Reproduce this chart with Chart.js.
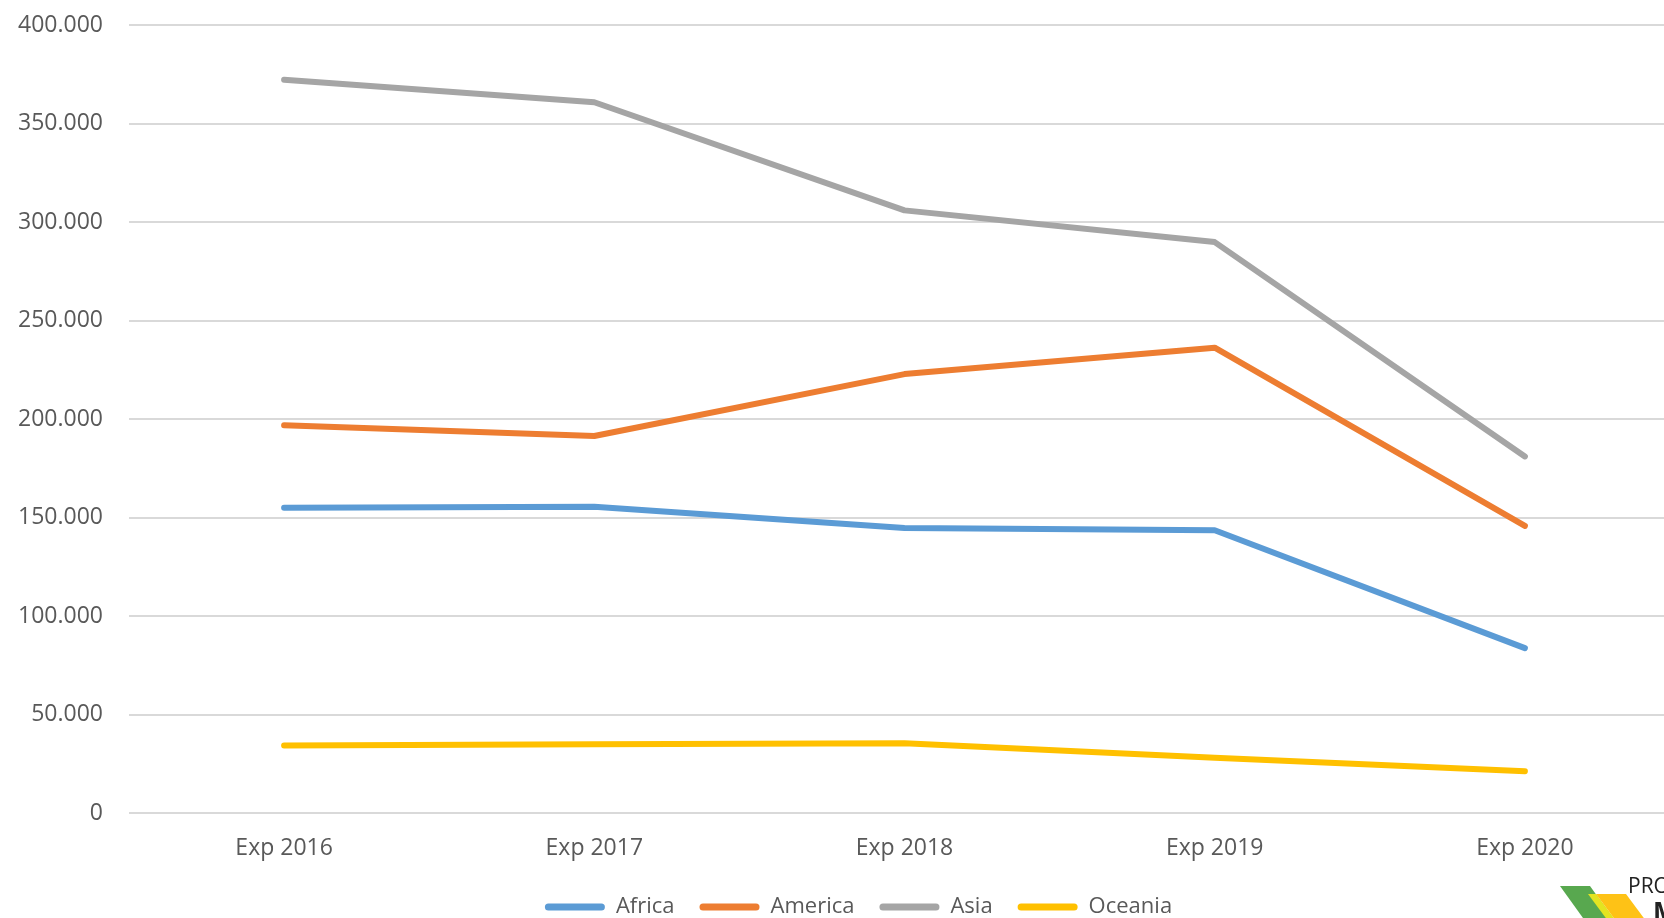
<!DOCTYPE html>
<html>
<head>
<meta charset="utf-8">
<script src="https://cdn.jsdelivr.net/npm/chart.js@4.4.1/dist/chart.umd.min.js"></script>
<style>
  html, body { margin: 0; padding: 0; background: #fff; overflow: hidden; }
  #chart { position: absolute; left: 0; top: 0; }
</style>
</head>
<body>
<canvas id="chart" width="1680" height="928"></canvas>
<script>
const categories = ["Exp 2016", "Exp 2017", "Exp 2018", "Exp 2019", "Exp 2020"];
const africa = [155000, 155500, 144700, 143500, 83700];
const america = [196800, 191400, 222800, 236200, 145700];
const asia = [372200, 360800, 305900, 289800, 181000];
const oceania = [34300, 34900, 35400, 28000, 21200];
const yTicks = [0, 50000, 100000, 150000, 200000, 250000, 300000, 350000, 400000];

const fmt = (v) => String(v).replace(/\B(?=(\d{3})+(?!\d))/g, ".");

const series = [
    { label: "Africa", data: africa, color: "#5b9bd5" },
    { label: "America", data: america, color: "#ed7d31" },
    { label: "Asia", data: asia, color: "#a5a5a5" },
    { label: "Oceania", data: oceania, color: "#ffc000" },
];

// legend in the original is not centred on the canvas
const legendShift = {
    id: "legendShift",
    afterLayout(chart) {
        const lg = chart.legend;
        lg.left = 0;
        lg.right = 1717;
        lg.width = 1717;
    },
};

// the cut-off logo in the bottom right corner
const cornerLogo = {
    id: "cornerLogo",
    afterDraw(chart) {
        const ctx = chart.ctx;
        const poly = (pts, c) => {
            ctx.beginPath();
            ctx.moveTo(pts[0][0], pts[0][1]);
            pts.slice(1).forEach((p) => ctx.lineTo(p[0], p[1]));
            ctx.closePath();
            ctx.fillStyle = c;
            ctx.fill();
        };
        ctx.save();
        poly([[1560, 886], [1590, 886], [1618, 925], [1588, 925]], "#58a84f");
        poly([[1588, 894], [1596, 894], [1619, 925], [1611, 925]], "#e3e421");
        poly([[1596, 894], [1626, 894], [1649, 925], [1619, 925]], "#fec216");
        ctx.fillStyle = "#222";
        ctx.font = "21px 'Open Sans'";
        ctx.textBaseline = "alphabetic";
        ctx.fillText("PRO", 1628, 893);
        ctx.font = "bold 26px 'Open Sans'";
        ctx.fillText("M", 1653, 921);
        ctx.restore();
    },
};

new Chart(document.getElementById("chart"), {
    type: "line",
    data: {
        labels: categories,
        datasets: series.map((s) => ({
            label: s.label,
            data: s.data,
            borderColor: s.color,
            backgroundColor: s.color,
            borderWidth: 6,
            borderCapStyle: "round",
            borderJoinStyle: "round",
            pointRadius: 0,
            tension: 0,
        })),
    },
    options: {
        responsive: false,
        animation: false,
        devicePixelRatio: 1,
        layout: { padding: { top: 25, left: 0, right: 0, bottom: 0 } },
        plugins: {
            tooltip: { enabled: false },
            legend: {
                position: "bottom",
                labels: {
                    boxWidth: 60,
                    boxHeight: 7,
                    useBorderRadius: true,
                    borderRadius: 3.5,
                    padding: 25,
                    color: "#595959",
                    font: { family: "'Open Sans'", size: 22 },
                    generateLabels: (chart) =>
                        Chart.defaults.plugins.legend.labels
                            .generateLabels(chart)
                            .map((it) => ({ ...it, lineWidth: 0 })),
                },
            },
        },
        scales: {
            x: {
                offset: true,
                grid: { display: false, drawTicks: false },
                border: { display: false },
                ticks: {
                    color: "#595959",
                    padding: 22,
                    maxRotation: 0,
                    font: { family: "'Open Sans'", size: 23 },
                },
                afterFit: (s) => { s.height = 58; },
            },
            y: {
                min: 0,
                max: 400000,
                grid: { color: "#d9d9d9", lineWidth: 2, drawTicks: false },
                border: { display: false },
                afterBuildTicks: (s) => { s.ticks = yTicks.map((v) => ({ value: v })); },
                ticks: {
                    color: "#595959",
                    padding: 26,
                    font: { family: "'Open Sans'", size: 23 },
                    callback: (v) => fmt(v),
                },
                afterFit: (s) => {
                    s.width = 129;
                    s.paddingTop = 0;
                    s.paddingBottom = 0;
                },
            },
        },
    },
    plugins: [legendShift, cornerLogo],
});
</script>
</body>
</html>
